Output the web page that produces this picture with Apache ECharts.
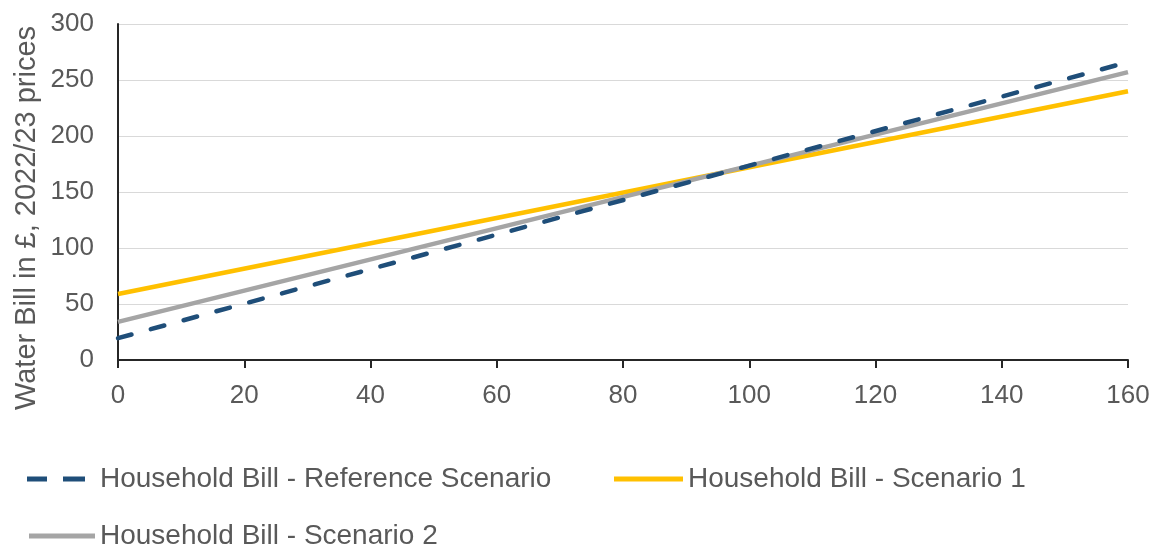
<!DOCTYPE html>
<html>
<head>
<meta charset="utf-8">
<script src="https://cdn.jsdelivr.net/npm/echarts@6/dist/echarts.min.js"></script>
<style>
html,body{margin:0;padding:0;background:#fff;}
#chart{width:1158px;height:549px;}
</style>
</head>
<body>
<div id="chart"></div>
<script>
var xValues = [0, 160];
var refValues = [19.5, 266];
var s1Values = [59, 240];
var s2Values = [34, 257];
var seriesNames = ['Household Bill - Reference Scenario', 'Household Bill - Scenario 1', 'Household Bill - Scenario 2'];
var yAxisTitle = 'Water Bill in £, 2022/23 prices';

function pairs(ys){ return xValues.map(function(x,i){ return [x, ys[i]]; }); }

var FONT = '"Liberation Sans", Arial, sans-serif';
var TXT = '#595959';
var chart = echarts.init(document.getElementById('chart'), null, {renderer:'canvas'});
function legendText(padLeft){ return {fontFamily: FONT, fontSize: 28, color: TXT, padding: [0, 0, 0, padLeft]}; }
chart.setOption({
  animation: false,
  grid: {left: 118, right: 30, top: 24, bottom: 189, containLabel: false},
  xAxis: {
    type: 'value', min: 0, max: 160, interval: 20,
    axisLine: {show: true, lineStyle: {color: '#262626', width: 2}},
    axisTick: {show: true, length: 8, lineStyle: {color: '#262626', width: 2}},
    axisLabel: {fontFamily: FONT, fontSize: 26, color: TXT, margin: 23},
    splitLine: {show: false}
  },
  yAxis: {
    type: 'value', min: 0, max: 300, interval: 50,
    axisLine: {show: true, lineStyle: {color: '#262626', width: 2}},
    axisTick: {show: false},
    axisLabel: {fontFamily: FONT, fontSize: 26, color: TXT, margin: 24},
    splitLine: {show: true, lineStyle: {color: '#d9d9d9', width: 1}}
  },
  graphic: [{
    type: 'text', x: 27, y: 218, rotation: Math.PI / 2,
    style: {text: yAxisTitle, font: '29px "Liberation Sans", Arial, sans-serif', fill: TXT, align: 'center', verticalAlign: 'middle'}
  }],
  legend: [
    {data: [seriesNames[0]], left: 22, top: 460, itemWidth: 58, itemHeight: 5,
      icon: 'path://M0,0h20v5h-20z M36,0h22v5h-22z', textStyle: legendText(10)},
    {data: [seriesNames[1]], left: 609, top: 460, itemWidth: 69, itemHeight: 5,
      icon: 'path://M0,0h69v5h-69z', textStyle: legendText(0)},
    {data: [seriesNames[2]], left: 24, top: 517, itemWidth: 66, itemHeight: 5,
      icon: 'path://M0,0h66v5h-66z', textStyle: legendText(0)}
  ],
  series: [
    {name: seriesNames[1], type: 'line', data: pairs(s1Values), showSymbol: false, symbol: 'none',
      lineStyle: {color: '#FFC000', width: 4.5}, itemStyle: {color: '#FFC000'}, z: 2},
    {name: seriesNames[2], type: 'line', data: pairs(s2Values), showSymbol: false, symbol: 'none',
      lineStyle: {color: '#A5A5A5', width: 4.5}, itemStyle: {color: '#A5A5A5'}, z: 3},
    {name: seriesNames[0], type: 'line', data: pairs(refValues), showSymbol: false, symbol: 'none',
      lineStyle: {color: '#1F4E79', width: 4.5, type: [14, 20], cap: 'round'}, itemStyle: {color: '#1F4E79'}, z: 4}
  ]
});
</script>
</body>
</html>
